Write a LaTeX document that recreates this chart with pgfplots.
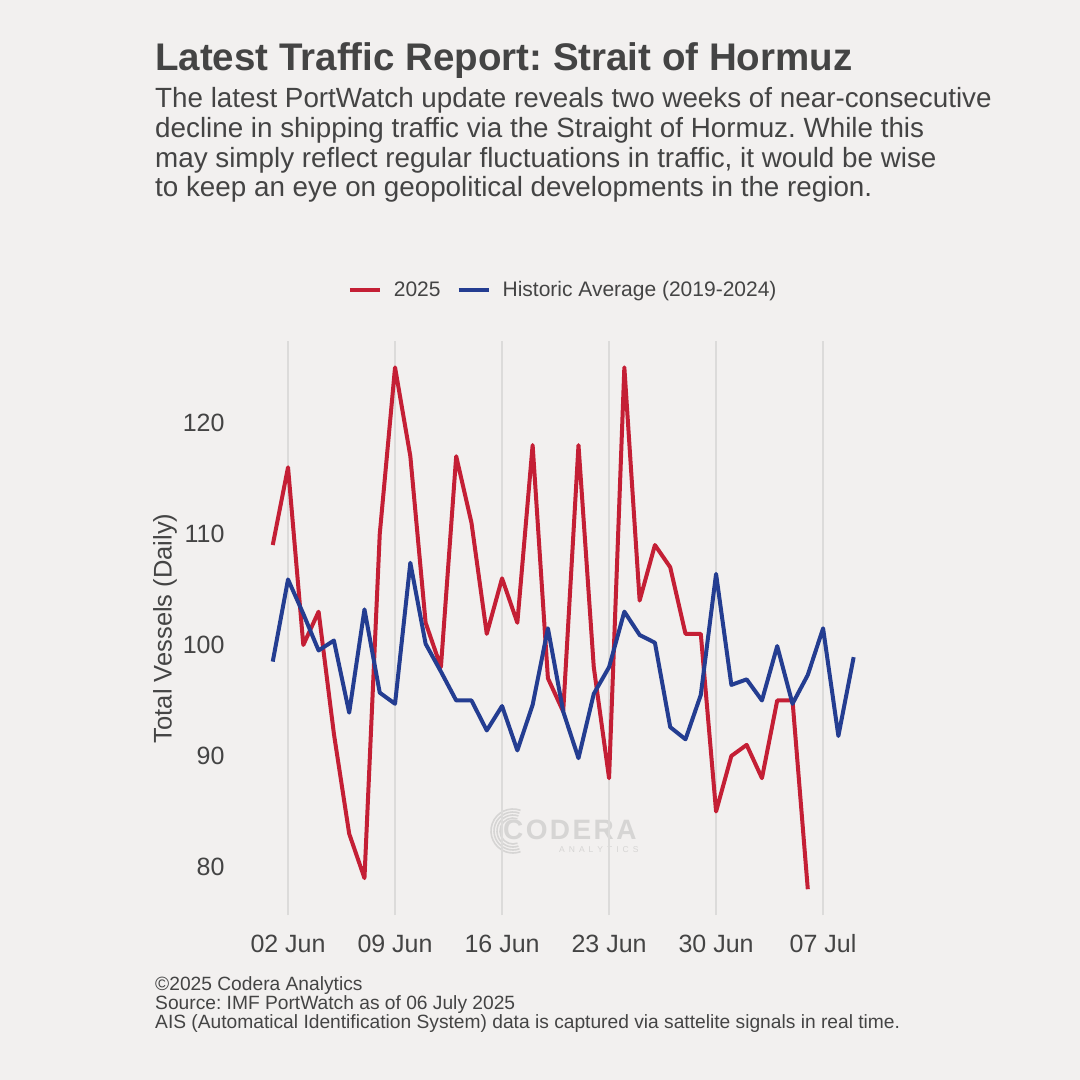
\documentclass[border=0pt]{standalone}
\usepackage{fontspec}
\setmainfont{Liberation Sans}
\usepackage{pgfplots}
\pgfplotsset{compat=1.18}
\definecolor{bg}{HTML}{F2F0EF}
\definecolor{redY}{HTML}{C41F35}
\definecolor{blueH}{HTML}{243D91}
\definecolor{txt}{HTML}{444444}
\definecolor{gridc}{HTML}{DCDBDA}
\definecolor{wm}{HTML}{D6D5D4}
\frenchspacing
\begin{document}
\frenchspacing
\begin{tikzpicture}[x=1pt,y=1pt]
\fill[bg] (0,0) rectangle (1080,1080);
\node[anchor=base west, inner sep=0, text=txt, font=\fontsize{38.5}{38.5}\selectfont\bfseries] at (155,1009) {Latest Traffic Report: Strait of Hormuz};
\begin{scope}[every node/.style={anchor=base west, inner sep=0, text=txt, font=\fontsize{27.8}{27.8}\selectfont}]
\node at (155,972) {The latest PortWatch update reveals two weeks of near-consecutive};
\node at (155,942) {decline in shipping traffic via the Straight of Hormuz. While this};
\node at (155,912.5) {may simply reflect regular fluctuations in traffic, it would be wise};
\node at (155,883) {to keep an eye on geopolitical developments in the region.};
\end{scope}
\begin{scope}[every node/.style={anchor=base west, inner sep=0, text=txt, font=\fontsize{19.2}{19.2}\selectfont}]
\node at (155,89) {\textcopyright 2025 Codera Analytics};
\node at (155,70) {Source: IMF PortWatch as of 06 July 2025};
\node at (155,51) {AIS (Automatical Identification System) data is captured via sattelite signals in real time.};
\end{scope}
% watermark
\foreach \r in {13,16,19,22}{\draw[wm, line width=1.6pt] (513,249)++(70:\r) arc[start angle=70, end angle=290, radius=\r];}
\node[anchor=base west, inner sep=0, text=wm, font=\fontsize{28}{28}\selectfont\bfseries] at (503,240) {C\kern2.4pt O\kern2.4pt D\kern2.4pt E\kern2.4pt R\kern2.4pt A};
\node[anchor=base west, inner sep=0, text=wm, font=\fontsize{8.5}{8.5}\selectfont] at (559,227) {A\hspace{4pt}N\hspace{4pt}A\hspace{4pt}L\hspace{4pt}Y\hspace{4pt}T\hspace{4pt}I\hspace{4pt}C\hspace{4pt}S};
\begin{axis}[
  at={(243.7pt,164.7pt)}, anchor=south west,
  scale only axis, width=639pt, height=574pt,
  xmin=-0.9, xmax=40.9, ymin=75.65, ymax=127.35,
  axis line style={draw=none},
  major tick style={draw=none},
  xtick={2,9,16,23,30,37},
  xticklabels={02 Jun,09 Jun,16 Jun,23 Jun,30 Jun,07 Jul},
  ytick={80,90,100,110,120},
  xmajorgrids=true, ymajorgrids=false,
  major grid style={draw=gridc, line width=1.3pt},
  /pgf/number format/assume math mode=true,
  ticklabel style={font=\fontsize{25}{25}\selectfont, text=txt},
  xticklabel style={anchor=base, yshift=-37pt},
  yticklabel style={anchor=east, inner sep=0pt, xshift=-19pt},
  ylabel={Total Vessels (Daily)},
  ylabel style={font=\fontsize{25.5}{25.5}\selectfont, text=txt, at={(rel axis cs:-0.1232,0.5)}, anchor=center},
  legend columns=2,
  legend style={at={(0.5,1.09)}, anchor=center, draw=none, fill=none, font=\fontsize{21}{21}\selectfont, text=txt,
    /tikz/every odd column/.append style={column sep=10pt},
    /tikz/every even column/.append style={column sep=14pt}},
  legend image code/.code={\draw[#1] (0pt,0pt) -- (30pt,0pt);},
  every axis plot/.append style={line width=4pt, line join=round},
]
\addplot[redY] coordinates {
(1,109) (2,116) (3,100) (4,103) (5,92) (6,83) (7,79) (8,110) (9,125) (10,117)
(11,102) (12,98) (13,117) (14,111) (15,101) (16,106) (17,102) (18,118) (19,97) (20,94)
(21,118) (22,98) (23,88) (24,125) (25,104) (26,109) (27,107) (28,101) (29,101) (30,85)
(31,90) (32,91) (33,88) (34,95) (35,95) (36,78)};
\addlegendentry{2025}
\addplot[blueH] coordinates {
(1,98.5) (2,105.9) (3,102.8) (4,99.5) (5,100.4) (6,93.9) (7,103.2) (8,95.7) (9,94.7) (10,107.4)
(11,100.1) (12,97.6) (13,95.0) (14,95.0) (15,92.3) (16,94.5) (17,90.5) (18,94.6) (19,101.5) (20,94.0)
(21,89.8) (22,95.6) (23,98.0) (24,103.0) (25,100.9) (26,100.2) (27,92.6) (28,91.5) (29,95.5) (30,106.4)
(31,96.4) (32,96.9) (33,95.0) (34,99.9) (35,94.7) (36,97.3) (37,101.5) (38,91.8) (39,98.9)};
\addlegendentry{Historic Average (2019-2024)}
\end{axis}
\end{tikzpicture}
\end{document}
